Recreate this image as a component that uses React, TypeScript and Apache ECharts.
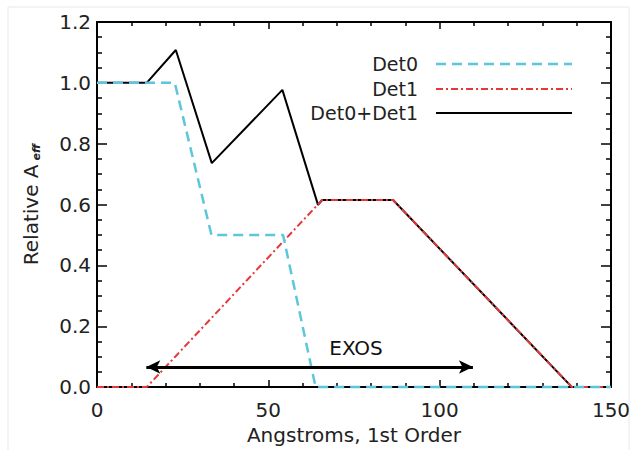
import React, { useEffect, useRef } from "react";
import * as echarts from "echarts";

const FONT = "DejaVu Sans";

const det0X = [0, 22.7, 33.4, 54.3, 63.8, 150];
const det0Y = [1.0, 1.0, 0.5, 0.5, 0.0, 0.0];

const det1X = [0, 14.5, 65.7, 86.4, 138.6, 150];
const det1Y = [0.0, 0.0, 0.615, 0.615, 0.0, 0.0];

const totalX = [0, 14.5, 23.0, 33.5, 54.1, 64.5, 65.7, 86.4, 138.6, 150];
const totalY = [1.0, 1.0, 1.108, 0.736, 0.977, 0.599, 0.615, 0.615, 0.0, 0.0];

const xTicks = [0, 50, 100, 150];
const yTicks = [0.0, 0.2, 0.4, 0.6, 0.8, 1.0, 1.2];

const arrowStart = [14.4, 0.066];
const arrowEnd = [109.7, 0.066];
const exosPos = [75.6, 0.128];

const legendNames = ["Det0", "Det1", "Det0+Det1"];
const CYAN = "#5cc6da";
const RED = "#e4383a";
const BLACK = "#000000";

const zip = (xs: number[], ys: number[]) => xs.map((x, i) => [x, ys[i]]);

export default function App() {
  const ref = useRef<HTMLDivElement>(null);
  useEffect(() => {
    if (!ref.current) return;
    const chart = echarts.init(ref.current, null, { renderer: "svg" });
    const axisCommon = {
      axisLine: { show: true, onZero: false, lineStyle: { color: "#000", width: 2 } },
      splitLine: { show: false },
    };
    const xAxisBase = (pos: "bottom" | "top", labels: boolean) => ({
      type: "value",
      position: pos,
      min: xTicks[0],
      max: xTicks[xTicks.length - 1],
      interval: 50,
      ...axisCommon,
      axisTick: { show: true, inside: true, length: 7, lineStyle: { color: "#000", width: 1.5 } },
      minorTick: { show: true, splitNumber: 5, length: 4, lineStyle: { color: "#000", width: 1.5 } },
      axisLabel: {
        show: labels,
        margin: 13,
        color: "#222",
        fontSize: 20,
        fontFamily: FONT,
        formatter: (v: number) => (xTicks.includes(v) ? String(v) : ""),
      },
    });
    const yAxisBase = (pos: "left" | "right", labels: boolean) => ({
      type: "value",
      position: pos,
      min: yTicks[0],
      max: yTicks[yTicks.length - 1],
      interval: 0.2,
      ...axisCommon,
      axisTick: { show: true, inside: true, length: 10, lineStyle: { color: "#000", width: 1.5 } },
      minorTick: { show: true, splitNumber: 4, length: 5, lineStyle: { color: "#000", width: 1.5 } },
      axisLabel: {
        show: labels,
        margin: 6,
        color: "#222",
        fontSize: 20,
        fontFamily: FONT,
        formatter: (v: number) => v.toFixed(1),
      },
    });

    const legendYs = [64, 89, 113];
    const legendStyles = [
      { stroke: CYAN, lineWidth: 2.5, lineDash: [10, 6] },
      { stroke: RED, lineWidth: 2, lineDash: [7, 3, 2, 3] },
      { stroke: BLACK, lineWidth: 2 },
    ];
    const legendGraphics: any[] = [];
    legendNames.forEach((n, i) => {
      legendGraphics.push({
        type: "text",
        x: 418,
        y: legendYs[i],
        style: {
          text: n,
          fill: "#222",
          font: `19px "${FONT}"`,
          textAlign: "right",
          textVerticalAlign: "middle",
        },
        z: 100,
      });
      legendGraphics.push({
        type: "line",
        shape: { x1: 436, y1: legendYs[i], x2: 572, y2: legendYs[i] },
        style: { ...legendStyles[i], fill: null },
        z: 100,
      });
    });

    const option: any = {
      animation: false,
      backgroundColor: "#ffffff",
      grid: { left: 97, right: 23, top: 22, bottom: 62, containLabel: false },
      xAxis: [
        {
          ...xAxisBase("bottom", true),
          name: "Angstroms, 1st Order",
          nameLocation: "middle",
          nameGap: 36,
          nameTextStyle: { color: "#222", fontSize: 20, fontFamily: FONT },
        },
        xAxisBase("top", false),
      ],
      yAxis: [
        {
          ...yAxisBase("left", true),
          name: "{a|Relative A}{b|eff}",
          nameLocation: "middle",
          nameGap: 55,
          nameTextStyle: {
            color: "#222",
            fontFamily: FONT,
            rich: {
              a: { fontSize: 20, fontFamily: FONT, color: "#222", lineHeight: 22 },
              b: {
                fontSize: 11,
                fontFamily: FONT,
                fontStyle: "italic",
                fontWeight: "bold",
                color: "#222",
                verticalAlign: "bottom",
                lineHeight: 12,
                padding: [0, 0, 0, 4],
              },
            },
          },
        },
        yAxisBase("right", false),
      ],
      graphic: [
        {
          type: "rect",
          shape: { x: 8, y: 7, width: 621, height: 460 },
          style: { fill: null, stroke: "#e8e8e8", lineWidth: 1 },
          z: -1,
        },
        ...legendGraphics,
      ],
      series: [
        {
          name: legendNames[2],
          type: "line",
          data: zip(totalX, totalY),
          showSymbol: false,
          clip: false,
          lineStyle: { color: BLACK, width: 2 },
          z: 2,
          markLine: {
            silent: true,
            symbol: ["arrow", "arrow"],
            symbolSize: [10, 14],
            label: { show: false },
            lineStyle: { color: "#000", width: 3, type: "solid" },
            data: [[{ coord: arrowStart }, { coord: arrowEnd }]],
          },
          markPoint: {
            silent: true,
            data: [
              {
                coord: exosPos,
                symbol: "rect",
                symbolSize: 1,
                itemStyle: { color: "rgba(0,0,0,0)" },
                label: {
                  show: true,
                  position: "inside",
                  formatter: "EXOS",
                  color: "#111",
                  fontSize: 20,
                  fontFamily: FONT,
                },
              },
            ],
          },
        },
        {
          name: legendNames[1],
          type: "line",
          data: zip(det1X, det1Y),
          showSymbol: false,
          clip: false,
          lineStyle: { color: RED, width: 2, type: [7, 3, 2, 3] },
          z: 3,
        },
        {
          name: legendNames[0],
          type: "line",
          data: zip(det0X, det0Y),
          showSymbol: false,
          clip: false,
          lineStyle: { color: CYAN, width: 2.5, type: [10, 6] },
          z: 4,
        },
      ],
    };
    chart.setOption(option);
    return () => chart.dispose();
  }, []);
  return (
    <div
      ref={ref}
      style={{ position: "fixed", left: 0, top: 0, width: 634, height: 450, background: "#fff" }}
    />
  );
}
